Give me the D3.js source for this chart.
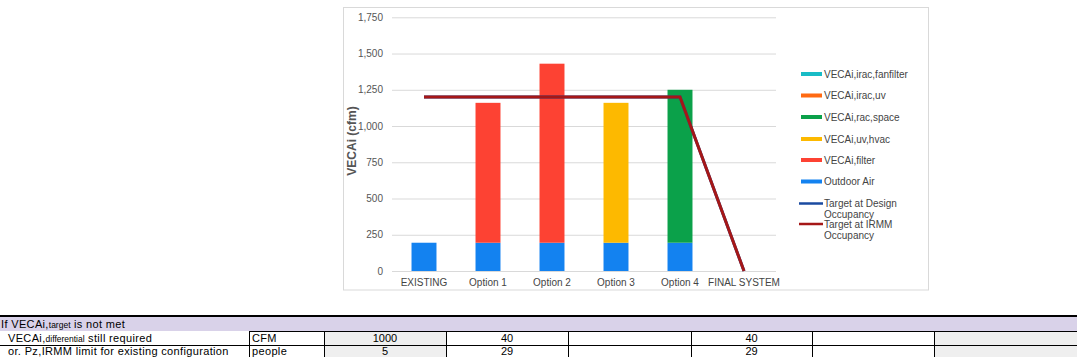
<!DOCTYPE html>
<html><head><meta charset="utf-8">
<script src="https://cdn.jsdelivr.net/npm/d3@7"></script>
<style>
body{margin:0;background:#fff;}
svg{display:block;font-family:"Liberation Sans",Arial,sans-serif;}
</style></head>
<body><svg id="c" width="1077" height="357"></svg>
<script>
const categories = ["EXISTING","Option 1","Option 2","Option 3","Option 4","FINAL SYSTEM"];
const outdoorAir    = [195,195,195,195,195,0];
const vecaFilter    = [0,965,1235,0,0,0];
const vecaUvHvac    = [0,0,0,965,0,0];
const vecaRacSpace  = [0,0,0,0,1055,0];
const vecaIracUv    = [0,0,0,0,0,0];
const vecaIracFan   = [0,0,0,0,0,0];
const targetDesign  = [1200,1200,1200,1200,1200,0];
const targetIRMM    = [1200,1200,1200,1200,1200,0];
const yTicks = [0,250,500,750,1000,1250,1500,1750];

const seriesNames = ["Outdoor Air","VECAi,filter","VECAi,uv,hvac","VECAi,rac,space","VECAi,irac,uv","VECAi,irac,fanfilter"];
const seriesVals = [outdoorAir,vecaFilter,vecaUvHvac,vecaRacSpace,vecaIracUv,vecaIracFan];
const seriesColors = ["#1382f0","#fd4233","#fdb900","#0ba14a","#ff6a12","#19bcc6"];

// table data
const row2Label = ["VECAi,","differential"," still required"];
const row3Label = "or. Pz,IRMM limit for existing configuration";
const units = ["CFM","people"];
const row2Vals = ["1000","40","","40","",""];
const row3Vals = ["5","29","","29","",""];

const svg = d3.select("#c");
svg.append("rect").attr("x",343.5).attr("y",7.5).attr("width",585).attr("height",282.5)
  .attr("fill","#fff").attr("stroke","#d9d9d9");

const table = categories.map((c,i)=>{const o={cat:c}; seriesNames.forEach((n,k)=>o[n]=seriesVals[k][i]); return o;});
const x = d3.scaleBand().domain(categories).range([392,776]).paddingInner(0.61).paddingOuter(0.305);
const y = d3.scaleLinear().domain([0,1750]).range([271,17.3]);

const yAxis = d3.axisLeft(y).tickValues(yTicks).tickFormat(d3.format(",")).tickSize(-(776-392)).tickPadding(9);
const gy = svg.append("g").attr("transform","translate(392,0)").call(yAxis);
gy.select(".domain").remove();
gy.selectAll(".tick line").attr("stroke","#d9d9d9");
gy.selectAll(".tick text").attr("fill","#555").attr("font-size",10).attr("font-family","Liberation Sans, Arial, sans-serif");

const xAxis = d3.axisBottom(x).tickSize(0).tickPadding(8);
const gx = svg.append("g").attr("transform","translate(0,271)").call(xAxis);
gx.select(".domain").remove();
gx.selectAll(".tick text").attr("fill","#444").attr("font-size",10).attr("font-family","Liberation Sans, Arial, sans-serif");

const stack = d3.stack().keys(seriesNames)(table);
svg.append("g").selectAll("g").data(stack).join("g")
  .attr("fill",(d,i)=>seriesColors[i])
  .selectAll("rect").data(d=>d).join("rect")
  .attr("x",d=>x(d.data.cat)).attr("width",x.bandwidth())
  .attr("y",d=>y(d[1])).attr("height",d=>Math.max(0,y(d[0])-y(d[1])));

const line = d3.line().x((d,i)=>x(categories[i])+x.bandwidth()/2).y(d=>y(d));
svg.append("path").datum(targetDesign).attr("d",line).attr("fill","none").attr("stroke","#1a4aa0").attr("stroke-width",3);
svg.append("path").datum(targetIRMM).attr("d",line).attr("fill","none").attr("stroke","#a51717").attr("stroke-width",3);

svg.append("text").attr("transform","translate(356,141) rotate(-90)").attr("text-anchor","middle")
  .attr("font-size",12).attr("font-weight","bold").attr("fill","#555").text("VECAi (cfm)");

const legendItems = [
  {name:"VECAi,irac,fanfilter",color:seriesColors[5],type:"bar",y:74},
  {name:"VECAi,irac,uv",color:seriesColors[4],type:"bar",y:95.5},
  {name:"VECAi,rac,space",color:seriesColors[3],type:"bar",y:117},
  {name:"VECAi,uv,hvac",color:seriesColors[2],type:"bar",y:139},
  {name:"VECAi,filter",color:seriesColors[1],type:"bar",y:160},
  {name:"Outdoor Air",color:seriesColors[0],type:"bar",y:181.5},
  {name:["Target at Design","Occupancy"],color:"#1a4aa0",type:"line",y:203.5},
  {name:["Target at IRMM","Occupancy"],color:"#a51717",type:"line",y:224}
];
const lg = svg.append("g");
legendItems.forEach(it=>{
  if(it.type==="bar"){
    lg.append("rect").attr("x",801).attr("y",it.y-2).attr("width",21).attr("height",4).attr("fill",it.color);
  } else {
    lg.append("line").attr("x1",799).attr("x2",823).attr("y1",it.y).attr("y2",it.y).attr("stroke",it.color).attr("stroke-width",2.5);
  }
  const names = Array.isArray(it.name)?it.name:[it.name];
  const t = lg.append("text").attr("x",824).attr("y",it.y+3.5).attr("font-size",10).attr("fill","#444");
  names.forEach((n,i)=>t.append("tspan").attr("x",824).attr("dy",i===0?0:11).text(n));
});

// ---------- table ----------
const tg = svg.append("g");
tg.append("rect").attr("x",0).attr("y",317).attr("width",1077).attr("height",14).attr("fill","#d9d2e9");
tg.append("line").attr("x1",0).attr("x2",1077).attr("y1",316).attr("y2",316).attr("stroke","#000").attr("stroke-width",2);
const colEdges = [324,446,568,691,812,934,1077];
const grayCols = [0,5];
colEdges.slice(0,-1).forEach((x0,i)=>{
  if(grayCols.includes(i)){
    tg.append("rect").attr("x",x0).attr("y",331).attr("width",colEdges[i+1]-x0).attr("height",26).attr("fill","#efefef");
  }
});
tg.append("line").attr("x1",249).attr("x2",1077).attr("y1",331.5).attr("y2",331.5).attr("stroke","#000");
tg.append("line").attr("x1",0).attr("x2",1077).attr("y1",345.5).attr("y2",345.5).attr("stroke","#000");
[249,324,446,568,691,812,934].forEach(xv=>{
  tg.append("line").attr("x1",xv+0.5).attr("x2",xv+0.5).attr("y1",331).attr("y2",357).attr("stroke","#000");
});
const tf = "Liberation Sans, Arial, sans-serif";
const fs = 11;
const ls = 0.35;
const r1 = tg.append("text").attr("x",1).attr("y",328).attr("font-size",fs).attr("letter-spacing",ls).attr("fill","#000").attr("font-family",tf);
r1.append("tspan").text("If VECAi,");
r1.append("tspan").attr("font-size",8.5).attr("letter-spacing",0).text("target");
r1.append("tspan").text(" is not met");
const r2y = 341.8, r3y = 354.6;
const r2 = tg.append("text").attr("x",8).attr("y",r2y).attr("font-size",fs).attr("letter-spacing",ls).attr("fill","#000").attr("font-family",tf);
r2.append("tspan").text(row2Label[0]);
r2.append("tspan").attr("font-size",8.5).attr("letter-spacing",0).text(row2Label[1]);
r2.append("tspan").text(row2Label[2]);
tg.append("text").attr("x",252).attr("y",r2y).attr("font-size",fs).attr("letter-spacing",ls).attr("font-family",tf).text(units[0]);
tg.append("text").attr("x",8).attr("y",r3y).attr("font-size",fs).attr("letter-spacing",ls).attr("font-family",tf).text(row3Label);
tg.append("text").attr("x",252).attr("y",r3y).attr("font-size",fs).attr("letter-spacing",ls).attr("font-family",tf).text(units[1]);
[row2Vals,row3Vals].forEach((vals,r)=>{
  vals.forEach((v,i)=>{
    if(!v) return;
    tg.append("text").attr("x",(colEdges[i]+colEdges[i+1])/2).attr("y",r===0?r2y:r3y).attr("text-anchor","middle")
      .attr("font-size",fs).attr("font-family",tf).text(v);
  });
});
</script></body></html>
